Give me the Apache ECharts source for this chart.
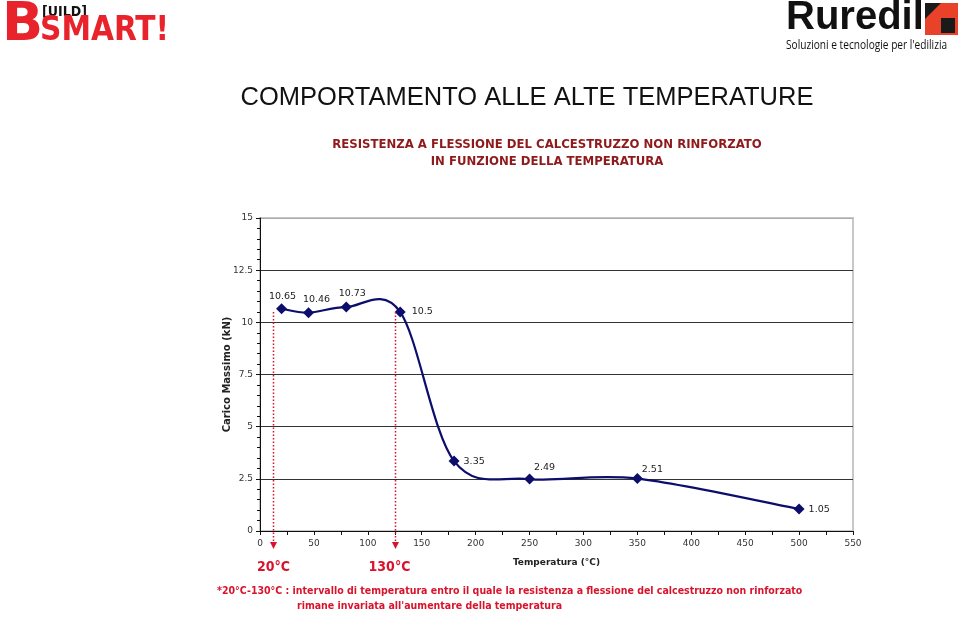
<!DOCTYPE html>
<html>
<head>
<meta charset="utf-8">
<script src="https://cdn.jsdelivr.net/npm/echarts@6/dist/echarts.min.js"></script>
<style>
  html, body { margin: 0; padding: 0; background: #fff; }
  #chart { width: 960px; height: 617px; }
</style>
</head>
<body>
<div id="chart"></div>
<script>
// measured points (°C, kN)
const temperatures = [20, 45, 80, 130, 180, 250, 350, 500];
const loads = [10.65, 10.46, 10.73, 10.5, 3.35, 2.49, 2.51, 1.05];

// red dotted guides (drawn a little left of the nominal temperatures, as in the original)
const guideTemps = [12, 125];
const guideLabels = ['20°C', '130°C'];
const guideTop = 10.5;

const titleText = 'COMPORTAMENTO ALLE ALTE TEMPERATURE';
const subtitleLines = ['RESISTENZA A FLESSIONE DEL CALCESTRUZZO NON RINFORZATO', 'IN FUNZIONE DELLA TEMPERATURA'];
const noteLines = [
  '*20°C-130°C : intervallo di temperatura entro il quale la resistenza a flessione del calcestruzzo non rinforzato',
  'rimane invariata all\'aumentare della temperatura'
];

const NAVY = '#0d0d6b';
const RED = '#d8142c';
const DARKRED = '#8e1a1c';
const NARROW = '"DejaVu Sans Condensed", "DejaVu Sans", sans-serif';

// label placement per point
const labelPlace = [
  { position: 'top', offset: [1, 2] },
  { position: 'top', offset: [8, 1] },
  { position: 'top', offset: [6, 1] },
  { position: 'right', offset: [2, 0] },
  { position: 'right', offset: [0, 0] },
  { position: 'top', offset: [15, 3] },
  { position: 'top', offset: [15, 5] },
  { position: 'right', offset: [0, 0] }
];

const points = temperatures.map((t, i) => [t, loads[i]]);

// Excel-style smoothed segment (Catmull-Rom -> cubic bezier) between point i and i+1
function renderSegment(params, api) {
  const i = params.dataIndex;
  if (i >= points.length - 1) return null;
  const c = k => api.coord(points[Math.max(0, Math.min(points.length - 1, k))]);
  const p0 = c(i - 1), p1 = c(i), p2 = c(i + 1), p3 = c(i + 2);
  return {
    type: 'bezierCurve',
    shape: {
      x1: p1[0], y1: p1[1], x2: p2[0], y2: p2[1],
      cpx1: p1[0] + (p2[0] - p0[0]) / 6, cpy1: p1[1] + (p2[1] - p0[1]) / 6,
      cpx2: p2[0] - (p3[0] - p1[0]) / 6, cpy2: p2[1] - (p3[1] - p1[1]) / 6
    },
    style: { stroke: NAVY, lineWidth: 2.2, fill: null }
  };
}

const chart = echarts.init(document.getElementById('chart'), null, { renderer: 'canvas' });

const option = {
  backgroundColor: '#fff',
  animation: false,
  grid: { left: 260, right: 107, top: 218, bottom: 86, show: true, borderColor: '#c8c8c8', borderWidth: 2 },
  xAxis: {
    type: 'value', min: 0, max: 550, interval: 50,
    name: 'Temperatura (°C)', nameLocation: 'middle', nameGap: 27,
    nameTextStyle: { fontFamily: 'DejaVu Sans', fontWeight: 'bold', fontSize: 9, color: '#222' },
    axisLine: { lineStyle: { color: '#111', width: 1 } },
    axisTick: { length: 4, lineStyle: { color: '#111' } },
    minorTick: { show: true, splitNumber: 2, length: 4, lineStyle: { color: '#111' } },
    axisLabel: { fontFamily: 'DejaVu Sans', fontSize: 9, color: '#333', margin: 8 },
    splitLine: { show: false }
  },
  yAxis: {
    type: 'value', min: 0, max: 15, interval: 2.5,
    name: 'Carico Massimo (kN)', nameLocation: 'middle', nameGap: 28, nameRotate: 90,
    nameMoveOverlap: false,
    nameTextStyle: { fontFamily: 'DejaVu Sans', fontWeight: 'bold', fontSize: 10, color: '#222' },
    axisLine: { show: true, lineStyle: { color: '#111', width: 1 } },
    axisTick: { show: true, length: 4, lineStyle: { color: '#111' } },
    minorTick: { show: true, splitNumber: 5, length: 3, lineStyle: { color: '#111' } },
    axisLabel: { fontFamily: 'DejaVu Sans', fontSize: 9, color: '#333', margin: 7 },
    splitLine: { lineStyle: { color: ['#333', '#333', '#333', '#333', '#333', '#333', '#aaa'], width: 1.2 } }
  },
  series: [{
    type: 'custom',
    data: points,
    renderItem: renderSegment,
    silent: true,
    z: 4
  }, {
    type: 'scatter',
    data: points.map((p, i) => ({ value: p, label: labelPlace[i] })),
    symbol: 'diamond',
    symbolSize: 11,
    itemStyle: { color: NAVY, opacity: 1 },
    label: { show: true, fontFamily: 'DejaVu Sans', fontSize: 9.5, color: '#222', distance: 4, formatter: p => p.value[1] },
    z: 5
  }]
};

chart.setOption(option);

// annotations placed through the chart's own scales
const graphics = [];
const axisBottom = chart.convertToPixel({ gridIndex: 0 }, [0, 0])[1];
guideTemps.forEach((t, i) => {
  const p = chart.convertToPixel({ gridIndex: 0 }, [t, guideTop]);
  const x = Math.round(p[0]) + 0.5;
  const yEnd = axisBottom + 11;
  graphics.push({
    type: 'line', silent: true, z: 10,
    shape: { x1: x, y1: p[1], x2: x, y2: yEnd },
    style: { stroke: RED, lineWidth: 1.5, lineDash: [1.5, 2] }
  });
  graphics.push({
    type: 'polygon', silent: true, z: 10,
    shape: { points: [[x - 3.5, yEnd], [x + 3.5, yEnd], [x, yEnd + 7]] },
    style: { fill: RED }
  });
  graphics.push({
    type: 'text', silent: true, z: 10,
    x: x + (i === 1 ? -6 : 0), y: axisBottom + 36,
    style: { text: guideLabels[i], fill: RED, font: 'bold 14px ' + NARROW, textAlign: 'center', textVerticalAlign: 'middle' }
  });
});

// titles
graphics.push({
  type: 'text', silent: true, x: 527, y: 98,
  style: { text: titleText, fill: '#111', font: '25.5px "Liberation Sans", Arial, sans-serif', textAlign: 'center', textVerticalAlign: 'middle' }
});
subtitleLines.forEach((s, i) => {
  graphics.push({
    type: 'text', silent: true, x: 547, y: 145 + i * 17,
    style: { text: s, fill: DARKRED, font: 'bold 13px ' + NARROW, textAlign: 'center', textVerticalAlign: 'middle' }
  });
});

// footnote
graphics.push({
  type: 'text', silent: true, x: 217, y: 591,
  style: { text: noteLines[0], fill: RED, font: 'bold 10.5px ' + NARROW, textAlign: 'left', textVerticalAlign: 'middle' }
});
graphics.push({
  type: 'text', silent: true, x: 297, y: 606,
  style: { text: noteLines[1], fill: RED, font: 'bold 10.5px ' + NARROW, textAlign: 'left', textVerticalAlign: 'middle' }
});

// BUILD SMART logo
graphics.push({
  type: 'text', silent: true, x: 2, y: 26,
  style: { text: 'B', fill: '#e8232b', font: 'bold 54px "DejaVu Sans", sans-serif', textVerticalAlign: 'middle' }
});
graphics.push({
  type: 'text', silent: true, x: 42, y: 12,
  style: { text: '[UILD]', fill: '#111', font: 'bold 14px ' + NARROW, textVerticalAlign: 'middle' }
});
graphics.push({
  type: 'text', silent: true, x: 40, y: 31,
  style: { text: 'SMART!', fill: '#e8232b', font: 'bold 33px ' + NARROW, textVerticalAlign: 'middle' }
});

// Ruredil logo
graphics.push({
  type: 'text', silent: true, x: 786, y: 18,
  style: { text: 'Ruredil', fill: '#111', font: 'bold 40px "Liberation Sans", Arial, sans-serif', textVerticalAlign: 'middle' }
});
graphics.push({
  type: 'rect', silent: true, shape: { x: 925, y: 3, width: 33, height: 32 }, style: { fill: '#e8432a' }
});
graphics.push({
  type: 'polygon', silent: true, shape: { points: [[925, 3], [941, 3], [925, 19]] }, style: { fill: '#1a1a1a' }
});
graphics.push({
  type: 'rect', silent: true, shape: { x: 941, y: 18, width: 14, height: 15 }, style: { fill: '#1a1a1a' }
});
graphics.push({
  type: 'text', silent: true, x: 786, y: 45, scaleX: 0.78,
  style: { text: 'Soluzioni e tecnologie per l\'edilizia', fill: '#111', font: '13px "Open Sans", "DejaVu Sans", sans-serif', textVerticalAlign: 'middle' }
});

chart.setOption({ graphic: graphics });
</script>
</body>
</html>
